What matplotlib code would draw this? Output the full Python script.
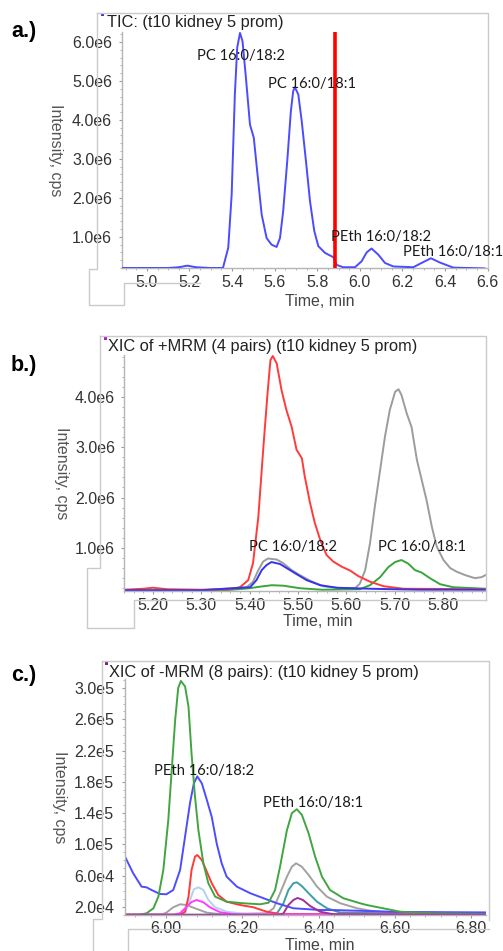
import matplotlib
matplotlib.use("Agg")
import matplotlib.pyplot as plt
from matplotlib.lines import Line2D
from matplotlib.patches import Rectangle
from matplotlib.ticker import MultipleLocator

plt.rcParams['font.family'] = ['Liberation Sans', 'DejaVu Sans']

# ---------------- data ----------------
# a.) TIC  (time in min, intensity in 1e6 cps)
tic_t = [4.883, 5.10, 5.15, 5.19, 5.23, 5.30, 5.357, 5.382, 5.398, 5.413, 5.424,
         5.437, 5.449, 5.465, 5.484, 5.502, 5.518, 5.539, 5.562, 5.585, 5.609,
         5.625, 5.640, 5.659, 5.676, 5.687, 5.695, 5.711, 5.727, 5.747, 5.766,
         5.786, 5.805, 5.836, 5.860, 5.875, 5.891, 5.922, 5.977, 6.008, 6.032,
         6.055, 6.087, 6.118, 6.157, 6.251, 6.290, 6.334, 6.376, 6.439, 6.585]
tic_v = [0.20, 0.20, 0.22, 0.26, 0.22, 0.20, 0.20, 0.72, 2.08, 4.65, 5.85,
         6.23, 6.02, 5.08, 3.88, 3.54, 2.68, 1.57, 0.97, 0.80, 0.74,
         0.97, 1.66, 2.94, 4.22, 4.74, 4.84, 4.65, 3.97, 2.94, 1.91,
         1.15, 0.76, 0.59, 0.52, 0.48, 0.28, 0.22, 0.22, 0.37, 0.60,
         0.70, 0.54, 0.33, 0.24, 0.22, 0.33, 0.45, 0.34, 0.21, 0.19]
marker_time = 5.883
a_xticks = [5.0, 5.2, 5.4, 5.6, 5.8, 6.0, 6.2, 6.4, 6.6]
a_xlabels = ["5.0", "5.2", "5.4", "5.6", "5.8", "6.0", "6.2", "6.4", "6.6"]
a_yticks = [1.0e6, 2.0e6, 3.0e6, 4.0e6, 5.0e6, 6.0e6]
a_ylabels = ["1.0e6", "2.0e6", "3.0e6", "4.0e6", "5.0e6", "6.0e6"]

# b.) XIC +MRM, 4 pairs (intensity in 1e6 cps)
b_red_t = [5.140, 5.18, 5.20, 5.23, 5.30, 5.359, 5.380, 5.397, 5.407, 5.418,
           5.428, 5.437, 5.443, 5.448, 5.456, 5.466, 5.476, 5.487, 5.497, 5.508,
           5.514, 5.525, 5.535, 5.546, 5.559, 5.573, 5.590, 5.608, 5.625, 5.649,
           5.677, 5.718, 5.888]
b_red_v = [0.17, 0.19, 0.21, 0.18, 0.17, 0.18, 0.22, 0.36, 0.70, 1.62,
           2.95, 4.07, 4.73, 4.81, 4.66, 4.13, 3.74, 3.40, 2.95, 2.78,
           2.42, 1.89, 1.49, 1.16, 0.86, 0.73, 0.63, 0.55, 0.44, 0.33,
           0.24, 0.19, 0.18]
b_gray_t = [5.140, 5.30, 5.394, 5.407, 5.418, 5.428, 5.438, 5.456, 5.469, 5.487,
            5.504, 5.525, 5.552, 5.587, 5.618, 5.628, 5.639, 5.649, 5.659, 5.670,
            5.680, 5.690, 5.701, 5.708, 5.714, 5.725, 5.735, 5.746, 5.756, 5.766,
            5.777, 5.787, 5.801, 5.815, 5.828, 5.846, 5.866, 5.880, 5.888]
b_gray_v = [0.16, 0.16, 0.22, 0.33, 0.56, 0.73, 0.79, 0.77, 0.70, 0.56,
            0.46, 0.35, 0.24, 0.20, 0.20, 0.29, 0.56, 1.09, 1.82, 2.55,
            3.21, 3.74, 4.10, 4.15, 4.04, 3.67, 3.40, 2.75, 2.35, 1.95,
            1.42, 1.03, 0.76, 0.60, 0.53, 0.46, 0.40, 0.42, 0.46]
b_blue_t = [5.140, 5.30, 5.401, 5.414, 5.425, 5.435, 5.445, 5.463, 5.480, 5.497,
            5.518, 5.546, 5.580, 5.649, 5.75, 5.888]
b_blue_v = [0.16, 0.16, 0.22, 0.36, 0.56, 0.66, 0.72, 0.68, 0.58, 0.48,
            0.36, 0.26, 0.21, 0.19, 0.17, 0.17]
b_green_t = [5.140, 5.35, 5.40, 5.421, 5.446, 5.470, 5.504, 5.55, 5.628, 5.649,
             5.670, 5.687, 5.701, 5.714, 5.728, 5.742, 5.756, 5.773, 5.794, 5.821,
             5.888]
b_green_v = [0.15, 0.16, 0.20, 0.23, 0.26, 0.25, 0.20, 0.17, 0.18, 0.26,
             0.42, 0.62, 0.72, 0.76, 0.69, 0.56, 0.51, 0.40, 0.28, 0.22,
             0.19]
b_xticks = [5.20, 5.30, 5.40, 5.50, 5.60, 5.70, 5.80]
b_xlabels = ["5.20", "5.30", "5.40", "5.50", "5.60", "5.70", "5.80"]
b_yticks = [1.0e6, 2.0e6, 3.0e6, 4.0e6]
b_ylabels = ["1.0e6", "2.0e6", "3.0e6", "4.0e6"]

# c.) XIC -MRM, 8 pairs (intensity in 1e4 cps)
c_green_t = [5.8925, 5.93, 5.949, 5.967, 5.980, 5.993, 6.006, 6.015, 6.024, 6.032,
             6.039, 6.050, 6.059, 6.067, 6.076, 6.085, 6.098, 6.111, 6.129, 6.159,
             6.203, 6.247, 6.269, 6.286, 6.299, 6.317, 6.330, 6.343, 6.356, 6.374,
             6.391, 6.409, 6.430, 6.465, 6.509, 6.526, 6.614, 6.701, 6.839]
c_green_v = [1.0, 1.0, 1.19, 1.83, 3.31, 6.73, 13.1, 19.5, 25.9, 30.0,
             30.9, 30.2, 27.6, 21.6, 16.1, 11.8, 7.58, 5.03, 3.31, 2.67,
             2.47, 2.34, 2.54, 4.17, 7.15, 11.8, 14.0, 14.5, 13.8, 11.4,
             8.43, 5.87, 4.17, 3.11, 2.47, 2.25, 1.39, 1.19, 1.1]
c_blue_t = [5.8925, 5.914, 5.936, 5.949, 5.962, 5.984, 6.001, 6.019, 6.037, 6.050,
            6.063, 6.073, 6.082, 6.094, 6.107, 6.120, 6.133, 6.146, 6.159, 6.186,
            6.221, 6.256, 6.291, 6.334, 6.404, 6.44, 6.614, 6.839]
c_blue_v = [8.43, 6.30, 4.59, 4.51, 4.17, 3.66, 3.62, 4.17, 6.73, 11.0,
            15.3, 17.8, 18.7, 17.8, 15.7, 13.5, 10.1, 7.58, 5.87, 4.59,
            3.75, 3.11, 2.47, 1.83, 1.61, 1.6, 1.36, 1.3]
c_red_t = [5.8925, 6.037, 6.050, 6.059, 6.067, 6.076, 6.082, 6.094, 6.107, 6.120,
           6.137, 6.159, 6.194, 6.229, 6.264, 6.299, 6.839]
c_red_v = [1.0, 1.0, 1.39, 3.31, 6.73, 8.43, 8.64, 8.0, 6.51, 5.03,
           3.53, 2.67, 2.25, 1.96, 1.39, 1.1, 1.0]
c_lightblue_t = [5.8925, 6.040, 6.050, 6.063, 6.073, 6.085, 6.098, 6.111, 6.129, 6.159,
                 6.21, 6.839]
c_lightblue_v = [1.0, 1.0, 1.2, 2.89, 4.26, 4.51, 4.17, 2.89, 1.96, 1.39,
                 1.1, 1.0]
c_magenta_t = [5.8925, 6.02, 6.037, 6.054, 6.067, 6.080, 6.098, 6.115, 6.142, 6.18,
               6.839]
c_magenta_v = [1.0, 1.0, 1.2, 2.03, 2.63, 2.89, 2.60, 1.96, 1.32, 1.05,
               1.0]
c_gray_t = [5.8925, 5.99, 6.001, 6.019, 6.037, 6.054, 6.076, 6.107, 6.142, 6.264,
            6.282, 6.299, 6.317, 6.330, 6.341, 6.356, 6.374, 6.396, 6.422, 6.457,
            6.501, 6.536, 6.60, 6.839]
c_gray_v = [1.0, 1.05, 1.27, 1.96, 2.34, 2.25, 1.83, 1.27, 1.08, 1.19,
            1.83, 3.75, 5.87, 7.15, 7.58, 7.15, 6.09, 4.59, 3.31, 2.47,
            1.83, 1.52, 1.2, 1.1]
c_teal_t = [5.8925, 6.28, 6.291, 6.308, 6.321, 6.334, 6.343, 6.356, 6.374, 6.396,
            6.422, 6.457, 6.839]
c_teal_v = [1.0, 1.0, 1.19, 2.47, 4.17, 5.03, 5.15, 4.68, 3.75, 2.67,
            1.83, 1.27, 1.05]
c_purple_t = [5.8925, 6.30, 6.308, 6.321, 6.334, 6.345, 6.359, 6.378, 6.404, 6.44,
              6.839]
c_purple_v = [1.0, 1.0, 1.19, 2.25, 2.89, 3.15, 2.89, 2.12, 1.39, 1.05,
              1.0]
c_xticks = [6.00, 6.20, 6.40, 6.60, 6.80]
c_xlabels = ["6.00", "6.20", "6.40", "6.60", "6.80"]
c_yticks = [2.0e4, 6.0e4, 1.0e5, 1.4e5, 1.8e5, 2.2e5, 2.6e5, 3.0e5]
c_ylabels = ["2.0e4", "6.0e4", "1.0e5", "1.4e5", "1.8e5", "2.2e5", "2.6e5", "3.0e5"]

# ---------------- figure ----------------
W, H = 503, 951
fig = plt.figure(figsize=(W / 100, H / 100), dpi=100)
fig.patch.set_facecolor('white')


def rect(l, t, r, b):
    return [l / W, 1 - b / H, (r - l) / W, (b - t) / H]


def line(xs, ys, color='#cacaca', lw=1.0):
    fig.add_artist(Line2D([x / W for x in xs], [1 - y / H for y in ys],
                          transform=fig.transFigure, color=color, lw=lw))


def ftext(x, y, s, **kw):
    fig.text(x / W, 1 - y / H, s, **kw)


TICK_FS = 11.5
TICK_COLOR = '#333333'
LW = 1.4
ANN = dict(family=['Lato', 'DejaVu Sans'], fontsize=10.6, color='#1a1a1a',
           ha='center', va='center')


def style(ax, xlim, ylim, xt, xl, yt, yl, xminor, yminor, xpad, ypad):
    ax.set_xlim(*xlim)
    ax.set_ylim(*ylim)
    for s in ('top', 'right'):
        ax.spines[s].set_visible(False)
    for s in ('left', 'bottom'):
        ax.spines[s].set_color('#b5b5b5')
        ax.spines[s].set_linewidth(1.0)
    ax.set_xticks(xt)
    ax.set_xticklabels(xl)
    ax.set_yticks(yt)
    ax.set_yticklabels(yl)
    ax.xaxis.set_minor_locator(MultipleLocator(xminor))
    ax.yaxis.set_minor_locator(MultipleLocator(yminor))
    ax.tick_params(which='major', length=2.5, width=0.8, color='#9a9a9a',
                   labelsize=TICK_FS, labelcolor=TICK_COLOR)
    ax.tick_params(which='minor', length=1.5, width=0.6, color='#a8a8a8')
    ax.tick_params(axis='x', which='major', pad=xpad)
    ax.tick_params(axis='y', which='major', pad=ypad)
    ax.patch.set_alpha(0)


# ---- panel frames (window outlines) ----
line([97, 488, 488], [13, 13, 268])
line([97, 97, 89, 89, 124, 124, 200], [13, 269, 269, 305, 305, 283, 283])
line([100, 486, 486], [336, 336, 600])
line([100, 100, 87, 87, 134, 134, 486], [336, 568, 568, 628, 628, 600, 600])
line([102, 489, 489], [661, 661, 920])
line([102, 102, 93, 93], [661, 919, 919, 951])
line([128, 128, 489], [951, 929, 929])

# ---- a.) TIC ----
ax_a = fig.add_axes(rect(122, 32.2, 487.6, 268))
ax_a.plot(tic_t, [v * 1e6 for v in tic_v], color='#4b4bff', lw=LW, zorder=3)
ax_a.axvline(marker_time, color='#ff0000', lw=2.6, zorder=4)
style(ax_a, (4.883, 6.6), (0.2e6, 6.25e6), a_xticks, a_xlabels, a_yticks, a_ylabels,
      0.05, 0.2e6, 2.6, 4.7)
ftext(241, 56, "PC 16:0/18:2", **ANN)
ftext(312, 84, "PC 16:0/18:1", **ANN)
ftext(381, 237, "PEth 16:0/18:2", **ANN)
ftext(453, 252, "PEth 16:0/18:1", **ANN)

# ---- b.) XIC +MRM ----
ax_b = fig.add_axes(rect(124, 355, 485.5, 591))
ax_b.plot(b_gray_t, [v * 1e6 for v in b_gray_v], color='#9c9c9c', lw=LW)
ax_b.plot(b_green_t, [v * 1e6 for v in b_green_v], color='#3aa53a', lw=LW)
ax_b.plot(b_red_t, [v * 1e6 for v in b_red_v], color='#ff3b3b', lw=LW)
ax_b.plot(b_blue_t, [v * 1e6 for v in b_blue_v], color='#3434ee', lw=LW)
style(ax_b, (5.140, 5.888), (0.145e6, 4.83e6), b_xticks, b_xlabels, b_yticks, b_ylabels,
      0.02, 0.2e6, 2.3, 4.0)
ftext(293, 547, "PC 16:0/18:2", **ANN)
ftext(422, 547, "PC 16:0/18:1", **ANN)

# ---- c.) XIC -MRM ----
ax_c = fig.add_axes(rect(125, 679, 486, 915))
series_c = [
    (c_gray_t, c_gray_v, '#a2a2a2'),
    (c_teal_t, c_teal_v, '#3d9fa6'),
    (c_lightblue_t, c_lightblue_v, '#b3d1f5'),
    (c_red_t, c_red_v, '#ff3a3a'),
    (c_blue_t, c_blue_v, '#4d4dff'),
    (c_green_t, c_green_v, '#42a542'),
    (c_magenta_t, c_magenta_v, '#ff3cff'),
    (c_purple_t, c_purple_v, '#9b3497'),
]
for t, v, col in series_c:
    ax_c.plot(t, [x * 1e4 for x in v], color=col, lw=LW)
style(ax_c, (5.8925, 6.839), (0.97e4, 31.15e4), c_xticks, c_xlabels, c_yticks, c_ylabels,
      0.04, 1.0e4, 1.8, 5.4)
ftext(204, 771, "PEth 16:0/18:2", **ANN)
ftext(313, 803, "PEth 16:0/18:1", **ANN)

# ---- titles, axis titles, panel letters ----
TITLE = dict(fontsize=11.8, color='#222222', ha='left', va='center')
ftext(107, 23, "TIC: (t10 kidney 5 prom)", **TITLE)
ftext(108, 347, "XIC of +MRM (4 pairs) (t10 kidney 5 prom)", **TITLE)
ftext(109, 672, "XIC of -MRM (8 pairs): (t10 kidney 5 prom)", **TITLE)

for (x, y, c) in [(101, 12.5, '#3a3ad0'), (104, 336.5, '#b020c0'), (105, 661.5, '#802080')]:
    fig.add_artist(Rectangle((x / W, 1 - (y + 3) / H), 2.5 / W, 3 / H,
                             transform=fig.transFigure, color=c, lw=0))

YL = dict(fontsize=11.5, color='#555555', rotation=270, ha='center', va='center')
ftext(55, 150, "Intensity, cps", **YL)
ftext(61, 473, "Intensity, cps", **YL)
ftext(59, 797, "Intensity, cps", **YL)

XL = dict(fontsize=11.5, color='#444444', ha='center', va='center')
ftext(320, 302, "Time, min", **XL)
ftext(318, 621, "Time, min", **XL)
ftext(320, 945, "Time, min", **XL)

PL = dict(fontsize=15.5, fontweight='bold', color='#000000', ha='left', va='center')
ftext(11, 32, "a.)", **PL)
ftext(11, 365, "b.)", **PL)
ftext(11, 675, "c.)", **PL)

fig.savefig("out.png", dpi=100)
